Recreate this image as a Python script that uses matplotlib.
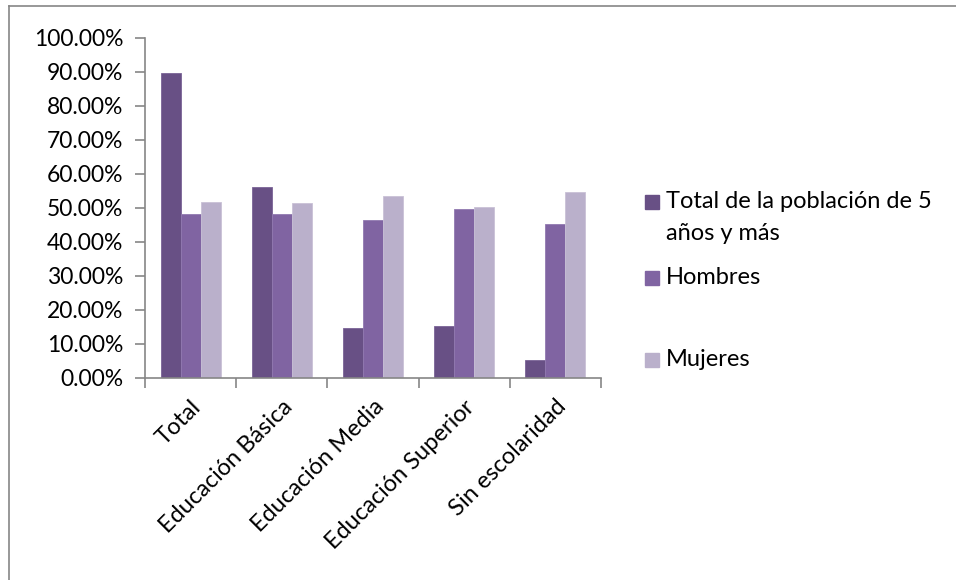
import numpy as np
import matplotlib.pyplot as plt
from matplotlib.lines import Line2D
from matplotlib.patches import Rectangle
from matplotlib.ticker import FuncFormatter, FixedLocator

plt.rcParams['font.family'] = ['Lato', 'DejaVu Sans']

categories = ["Total", "Educación Básica", "Educación Media",
              "Educación Superior", "Sin escolaridad"]
series_names = ["Total de la población de 5\naños y más", "Hombres", "Mujeres"]
total_pob = [0.897, 0.563, 0.147, 0.154, 0.053]
hombres = [0.482, 0.483, 0.466, 0.497, 0.454]
mujeres = [0.518, 0.516, 0.534, 0.503, 0.546]
yticks = np.arange(0, 1.01, 0.1)

colors = ["#685085", "#8064a2", "#bab0cb"]
edges = ["#7a6396", "#9179b0", "#c9c1d6"]

fig = plt.figure(figsize=(9.56, 5.8), dpi=100)
ax = fig.add_axes([145 / 956, 1 - 378 / 580, 456 / 956, 340 / 580])

x = np.arange(len(categories))
w = 0.22
for i, vals in enumerate([total_pob, hombres, mujeres]):
    ax.bar(x + (i - 1) * w, vals, width=w, color=colors[i],
           edgecolor=edges[i], linewidth=0.6)

ax.set_xlim(-0.5, len(categories) - 0.5)
ax.set_ylim(0, 1.0)
ax.set_yticks(yticks)
ax.yaxis.set_major_formatter(FuncFormatter(lambda v, p: f"{v * 100:.2f}%"))

ax.set_xticks(x)
ax.set_xticklabels(categories, rotation=45, ha="right", rotation_mode="anchor")
ax.xaxis.set_minor_locator(FixedLocator(np.arange(-0.5, len(categories), 1)))
ax.tick_params(axis="x", which="major", length=0, pad=13, labelsize=17)
ax.tick_params(axis="x", which="minor", length=7, color="#868686", width=1.2)
ax.tick_params(axis="y", length=7, color="#868686", width=1.2, labelsize=16.5, pad=8.5)

for s in ["top", "right"]:
    ax.spines[s].set_visible(False)
for s in ["left", "bottom"]:
    ax.spines[s].set_color("#868686")
    ax.spines[s].set_linewidth(1.2)

# legend
leg_y = [202, 278, 360]
sq = 14
for name, c, yy in zip(series_names, colors, leg_y):
    fig.patches.append(Rectangle(((645) / 956, 1 - (yy + sq / 2) / 580),
                                 sq / 956, sq / 580, color=c,
                                 transform=fig.transFigure, figure=fig))
    lines = name.split("\n")
    for k, ln in enumerate(lines):
        fig.text(666 / 956, 1 - (yy + k * 32) / 580, ln, fontsize=17,
                 va="center", ha="left", color="#000000")

# chart frame (top and left only)
fig.add_artist(Line2D([9 / 956, 9 / 956], [0, 1 - 6 / 580],
                      transform=fig.transFigure, color="#868686", lw=1.2))
fig.add_artist(Line2D([9 / 956, 1], [1 - 6 / 580, 1 - 6 / 580],
                      transform=fig.transFigure, color="#868686", lw=1.2))

fig.savefig("out.png", dpi=100)
